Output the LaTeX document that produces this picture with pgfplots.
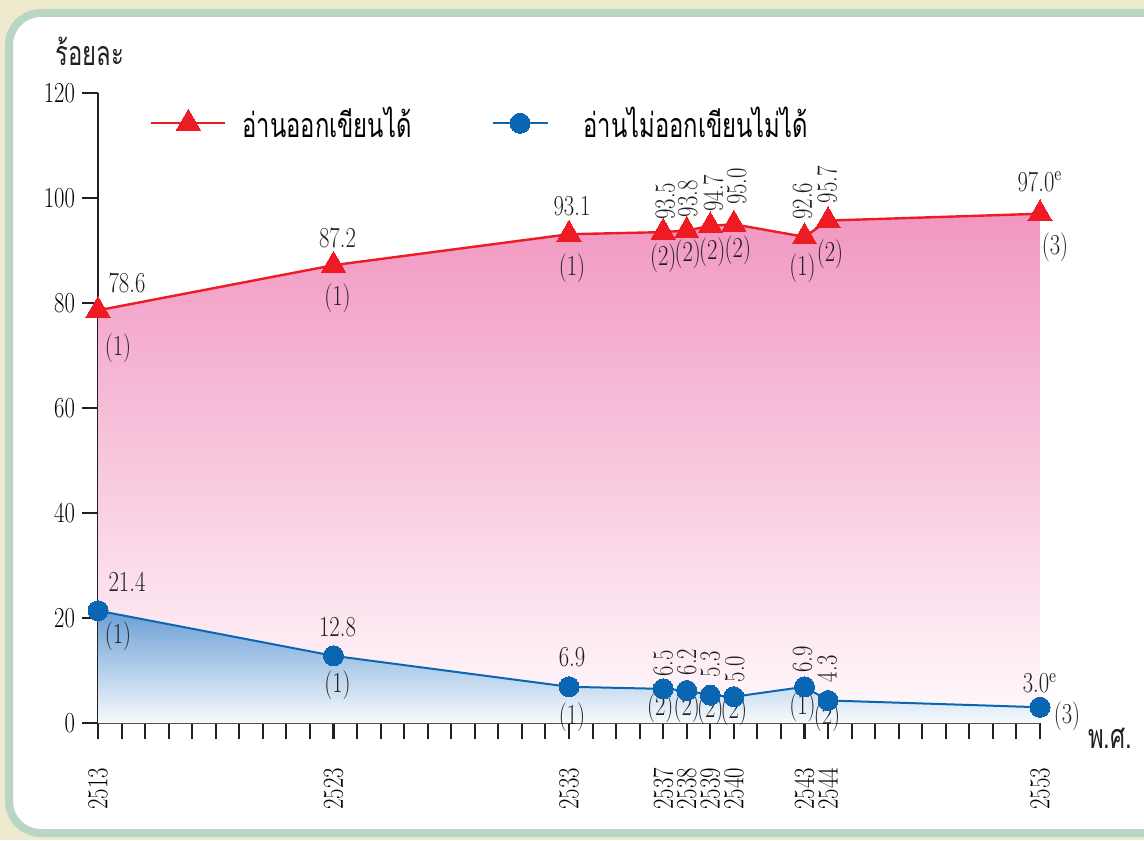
\documentclass[border=0pt]{standalone}
\usepackage{fontspec}
\usepackage{pgfplots}
\pgfplotsset{compat=1.18}
\newfontfamily\nf{Latin Modern Roman}[FakeStretch=0.78]
\newfontfamily\thf[Script=Thai,FakeStretch=0.7]{Loma}
\newcommand\numf{\nf\fontsize{14.5}{16}\selectfont}
\newcommand\thaif{\thf\fontsize{17}{20}\selectfont}
\definecolor{redc}{HTML}{ED1C24}
\definecolor{bluec}{HTML}{0A66B2}
\definecolor{pinkT}{HTML}{F197C1}
\definecolor{pinkB}{HTML}{FFFAFC}
\definecolor{blueT}{HTML}{6A9FD5}
\definecolor{blueB}{HTML}{F7FAFD}
\definecolor{axisc}{HTML}{231F20}
\definecolor{bgc}{HTML}{EEEACD}
\definecolor{bordc}{HTML}{B9D5C4}
\pgfplotsset{
  redleg/.style={legend image code/.code={\draw[mark repeat=2,mark phase=2,##1] plot coordinates {(0pt,0pt) (18.5pt,0pt) (37pt,0pt)};}},
  blueleg/.style={legend image code/.code={\draw[mark repeat=2,mark phase=2,##1] plot coordinates {(0pt,0pt) (13.75pt,0pt) (27.5pt,0pt)}; \path (37pt,0pt);}},
}
\begin{document}
\begin{tikzpicture}
\useasboundingbox (0pt,0pt) rectangle (572pt,-420pt);
\fill[bgc] (0pt,0pt) rectangle (572pt,-420pt);
\draw[line width=4pt, color=bordc, fill=white, rounded corners=16pt] (4.5pt,-6.5pt) rectangle (600pt,-416.5pt);
\begin{axis}[
  at={(49pt,-361.5pt)}, anchor=south west,
  scale only axis, width=471pt, height=315pt,
  xmin=2513, xmax=2553, ymin=0, ymax=120,
  axis lines=left,
  axis line style={-, line width=1.2pt, color=axisc},
  xtick={2513,2523,2533,2537,2538,2539,2540,2543,2544,2553},
  minor xtick={2513,...,2553},
  ytick={0,20,...,120},
  tick align=outside,
  major tick length=8pt, minor tick length=8pt,
  every tick/.style={line width=1pt, color=axisc},
  /pgf/number format/assume math mode=true,
  /pgf/number format/1000 sep={},
  xticklabel style={rotate=90, anchor=east, font=\numf},
  xticklabel shift=11pt,
  yticklabel style={font=\numf},
  clip=false,
  legend columns=2,
  legend style={at={(0.055,0.952)}, anchor=west, draw=none, fill=none, inner sep=0pt,
    font=\thaif, /tikz/every even column/.append style={column sep=38pt},
    /tikz/every odd column/.append style={column sep=6pt}},
  legend cell align=left,
]
\addplot[draw=none, top color=pinkT, bottom color=pinkB, forget plot] coordinates {
(2513,78.6) (2523,87.2) (2533,93.1) (2537,93.5) (2538,93.8) (2539,94.7) (2540,95.0) (2543,92.6) (2544,95.7) (2553,97.0)} \closedcycle;
\addplot[draw=none, top color=blueT, bottom color=blueB, forget plot] coordinates {
(2513,21.4) (2523,12.8) (2533,6.9) (2537,6.5) (2538,6.2) (2539,5.3) (2540,5.0) (2543,6.9) (2544,4.3) (2553,3.0)} \closedcycle;
\addplot[redleg, color=redc, line width=1.2pt, mark=triangle*, mark size=7pt, mark options={solid, fill=redc, draw=redc, line width=0pt}] coordinates {
(2513,78.6) (2523,87.2) (2533,93.1) (2537,93.5) (2538,93.8) (2539,94.7) (2540,95.0) (2543,92.6) (2544,95.7) (2553,97.0)};
\addlegendentry{อ่านออกเขียนได้}
\addplot[blueleg, color=bluec, line width=1pt, mark=*, mark size=5pt, mark options={solid, fill=bluec, draw=bluec, line width=0pt}] coordinates {
(2513,21.4) (2523,12.8) (2533,6.9) (2537,6.5) (2538,6.2) (2539,5.3) (2540,5.0) (2543,6.9) (2544,4.3) (2553,3.0)};
\addlegendentry{อ่านไม่ออกเขียนไม่ได้}
% red labels
\begin{scope}[every node/.style={font=\numf, inner sep=0pt, text=axisc}]
\node[xshift=14.5pt, yshift=13.5pt] at (axis cs:2513,78.6) {78.6};
\node[xshift=10pt, yshift=-19pt] at (axis cs:2513,78.6) {(1)};
\node[xshift=2pt, yshift=13.5pt] at (axis cs:2523,87.2) {87.2};
\node[xshift=2pt, yshift=-16.5pt] at (axis cs:2523,87.2) {(1)};
\node[xshift=1.5pt, yshift=14pt] at (axis cs:2533,93.1) {93.1};
\node[xshift=1.5pt, yshift=-17pt] at (axis cs:2533,93.1) {(1)};
\node[xshift=0pt, yshift=16pt] at (axis cs:2553,97.0) {97.0\textsuperscript{e}};
\node[xshift=7.5pt, yshift=-17pt] at (axis cs:2553,97.0) {(3)};
\node[rotate=90, anchor=west, xshift=6pt, yshift=-1pt] at (axis cs:2537,93.5) {93.5};
\node[xshift=0pt, yshift=-13pt] at (axis cs:2537,93.5) {(2)};
\node[rotate=90, anchor=west, xshift=6.5pt, yshift=-0.5pt] at (axis cs:2538,93.8) {93.8};
\node[xshift=0.5pt, yshift=-12pt] at (axis cs:2538,93.8) {(2)};
\node[rotate=90, anchor=west, xshift=7pt, yshift=-1.5pt] at (axis cs:2539,94.7) {94.7};
\node[xshift=1pt, yshift=-13pt] at (axis cs:2539,94.7) {(2)};
\node[rotate=90, anchor=west, xshift=9.5pt, yshift=-1.5pt] at (axis cs:2540,95.0) {95.0};
\node[xshift=2pt, yshift=-13pt] at (axis cs:2540,95.0) {(2)};
\node[rotate=90, anchor=west, xshift=8.5pt, yshift=1pt] at (axis cs:2543,92.6) {92.6};
\node[xshift=-1pt, yshift=-15.5pt] at (axis cs:2543,92.6) {(1)};
\node[rotate=90, anchor=west, xshift=8.5pt, yshift=0.5pt] at (axis cs:2544,95.7) {95.7};
\node[xshift=1pt, yshift=-17pt] at (axis cs:2544,95.7) {(2)};
% blue labels
\node[xshift=14.5pt, yshift=14.5pt] at (axis cs:2513,21.4) {21.4};
\node[xshift=10pt, yshift=-13pt] at (axis cs:2513,21.4) {(1)};
\node[xshift=2pt, yshift=14.5pt] at (axis cs:2523,12.8) {12.8};
\node[xshift=2pt, yshift=-14.5pt] at (axis cs:2523,12.8) {(1)};
\node[xshift=1.5pt, yshift=15pt] at (axis cs:2533,6.9) {6.9};
\node[xshift=1.5pt, yshift=-15pt] at (axis cs:2533,6.9) {(1)};
\node[xshift=0pt, yshift=12pt] at (axis cs:2553,3.0) {3.0\textsuperscript{e}};
\node[xshift=13.5pt, yshift=-4.5pt] at (axis cs:2553,3.0) {(3)};
\node[rotate=90, anchor=west, xshift=6pt, yshift=0pt] at (axis cs:2537,6.5) {6.5};
\node[xshift=-1.5pt, yshift=-9.5pt] at (axis cs:2537,6.5) {(2)};
\node[rotate=90, anchor=west, xshift=7.5pt, yshift=0pt] at (axis cs:2538,6.2) {6.2};
\node[xshift=0pt, yshift=-9pt] at (axis cs:2538,6.2) {(2)};
\node[rotate=90, anchor=west, xshift=8.5pt, yshift=0pt] at (axis cs:2539,5.3) {5.3};
\node[xshift=0pt, yshift=-7.5pt] at (axis cs:2539,5.3) {(2)};
\node[rotate=90, anchor=west, xshift=7pt, yshift=-0.5pt] at (axis cs:2540,5.0) {5.0};
\node[xshift=0pt, yshift=-7.5pt] at (axis cs:2540,5.0) {(2)};
\node[rotate=90, anchor=west, xshift=7pt, yshift=1pt] at (axis cs:2543,6.9) {6.9};
\node[xshift=-1pt, yshift=-10pt] at (axis cs:2543,6.9) {(1)};
\node[rotate=90, anchor=west, xshift=9pt, yshift=0.5pt] at (axis cs:2544,4.3) {4.3};
\node[xshift=-0.5pt, yshift=-8.5pt] at (axis cs:2544,4.3) {(2)};
\end{scope}
\node[font=\thaif, text=axisc, xshift=-4pt, yshift=21pt] at (rel axis cs:0,1) {ร้อยละ};
\node[font=\thaif, text=axisc, xshift=35pt, yshift=-7.5pt] at (rel axis cs:1,0) {พ.ศ.};
\end{axis}
\end{tikzpicture}
\end{document}
